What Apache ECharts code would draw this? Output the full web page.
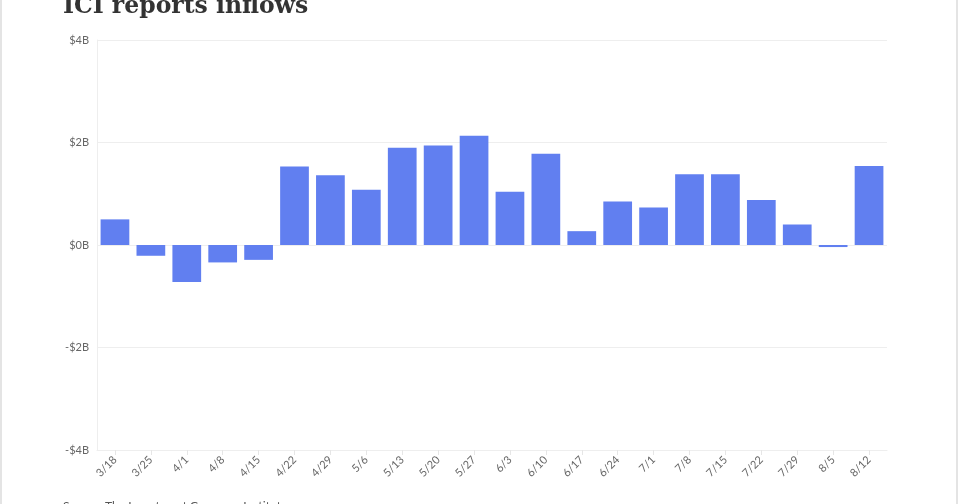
<!DOCTYPE html>
<html>
<head>
<meta charset="utf-8">
<script src="https://cdn.jsdelivr.net/npm/echarts@6/dist/echarts.min.js"></script>
<style>
html,body{margin:0;padding:0;background:#fff;}
#frame{position:absolute;left:0;top:0;width:958px;height:504px;border-left:2px solid #e4e4e4;border-right:2px solid #e4e4e4;box-sizing:border-box;}
#chart{position:absolute;left:0;top:0;width:960px;height:504px;}
</style>
</head>
<body>
<div id="chart"></div>
<div id="frame"></div>
<script>
const categories = ['3/18','3/25','4/1','4/8','4/15','4/22','4/29','5/6','5/13','5/20','5/27','6/3','6/10','6/17','6/24','7/1','7/8','7/15','7/22','7/29','8/5','8/12'];
const inflows = [0.50,-0.21,-0.72,-0.34,-0.29,1.53,1.36,1.08,1.90,1.94,2.13,1.04,1.78,0.27,0.85,0.73,1.38,1.38,0.88,0.40,-0.04,1.54];
const yTicks = [-4,-2,0,2,4];
const titleText = 'ICI reports inflows';
const sourceText = 'Source: The Investment Company Institute';

const chart = echarts.init(document.getElementById('chart'), null, {renderer:'canvas'});
chart.setOption({
  animation:false,
  backgroundColor:'#fff',
  title:[{
    text:titleText, left:58, top:-10,
    textStyle:{fontFamily:'DejaVu Serif', fontWeight:'bold', fontSize:23.5, color:'#333'}
  },{
    text:sourceText, left:58, top:495,
    textStyle:{fontFamily:'Lato', fontWeight:'normal', fontSize:12, color:'#555'}
  }],
  grid:{left:97, right:73, top:40, bottom:54, containLabel:false},
  xAxis:{
    type:'category', data:categories,
    axisLine:{show:true, onZero:false, lineStyle:{color:'#eeeeee'}},
    axisTick:{show:true, alignWithLabel:true, length:5, lineStyle:{color:'#e6e6e6'}},
    axisLabel:{rotate:45, color:'#666', fontFamily:'Lato', fontSize:11, margin:8},
    splitLine:{show:false}
  },
  yAxis:{
    type:'value', min:yTicks[0], max:yTicks[yTicks.length-1], interval:2,
    axisLine:{show:true, lineStyle:{color:'#eeeeee'}},
    axisTick:{show:false},
    axisLabel:{color:'#666', fontFamily:'Lato', fontSize:11, margin:8,
      formatter:v => (v<0?'-':'') + '$' + Math.abs(v) + 'B'},
    splitLine:{show:true, lineStyle:{color:'#eeeeee'}}
  },
  series:[{
    type:'bar', data:inflows, barCategoryGap:'20%',
    itemStyle:{color:'#617ff0'}
  }]
});
</script>
</body>
</html>
